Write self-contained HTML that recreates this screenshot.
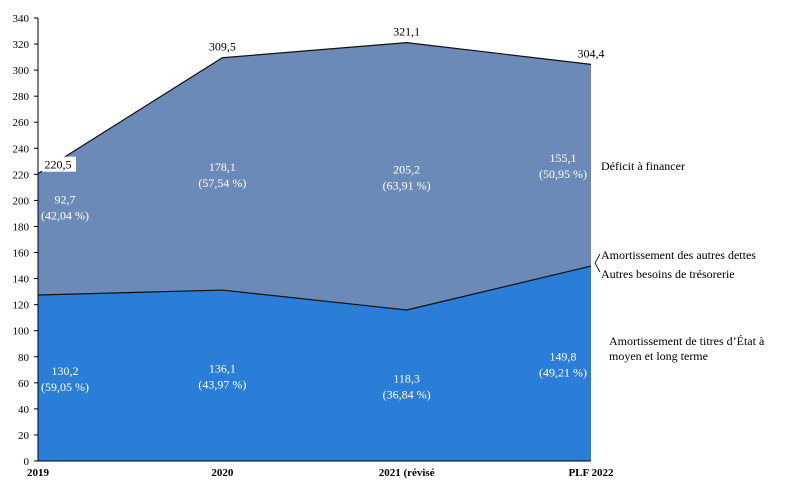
<!DOCTYPE html>
<html><head><meta charset="utf-8"><style>
body{margin:0;background:#fff}
svg{font-family:"Liberation Serif",serif;font-size:12px}
</style></head><body>
<svg width="809" height="495">
<g id="plot"></g>
</svg>
<script>
const categories=["2019","2020","2021 (révisé","PLF 2022"];
const lowerValues=[127.4,131.2,115.9,149.6];
const totalValues=[220.5,309.5,321.1,304.4];
const lowerLabels=["130,2","136,1","118,3","149,8"];
const lowerPct=["(59,05 %)","(43,97 %)","(36,84 %)","(49,21 %)"];
const upperLabels=["92,7","178,1","205,2","155,1"];
const upperPct=["(42,04 %)","(57,54 %)","(63,91 %)","(50,95 %)"];
const totalLabels=["220,5","309,5","321,1","304,4"];
const yTicks=[0,20,40,60,80,100,120,140,160,180,200,220,240,260,280,300,320,340];

const NS="http://www.w3.org/2000/svg";
const g=document.getElementById('plot');
const x0=38,x1=591,yb=461,yt=18;
const x=i=>x0+i*(x1-x0)/(categories.length-1);
const y=v=>yb-v*(yb-yt)/340;
function mk(t,a,txt){const e=document.createElementNS(NS,t);for(const k in a)e.setAttribute(k,a[k]);if(txt!==undefined)e.textContent=txt;g.appendChild(e);return e;}
const n=categories.length;
const lx=i=>x(i)+(i==0?27:(i==n-1?-28:0));

let up="",lo="";
categories.forEach((c,i)=>{up+=(i?"L":"M")+x(i)+","+y(totalValues[i]);});
for(let i=n-1;i>=0;i--)up+="L"+x(i)+","+y(lowerValues[i]);
let e=mk('path',{d:up+"Z",fill:"#6b8ab8"});


categories.forEach((c,i)=>{lo+=(i?"L":"M")+x(i)+","+y(lowerValues[i]);});
lo+="L"+x(n-1)+","+yb+"L"+x0+","+yb+"Z";
e=mk('path',{d:lo,fill:"#2a7ed7"});


let l1="",l2="";
categories.forEach((c,i)=>{l1+=(i?"L":"M")+x(i)+","+y(totalValues[i]);l2+=(i?"L":"M")+x(i)+","+y(lowerValues[i]);});
mk('path',{d:l1,fill:"none",stroke:"#111","stroke-width":1.2});
mk('path',{d:l2,fill:"none",stroke:"#111","stroke-width":1.2});

e=mk('line',{x1:x0,y1:yt,x2:x0,y2:yb,stroke:"#000"});


e=mk('line',{x1:x0,y1:yb,x2:x1,y2:yb,stroke:"#000"});


yTicks.forEach(v=>{
  mk('line',{x1:x0-4,y1:y(v),x2:x0,y2:y(v),stroke:"#000"});
  const t=mk('text',{x:x0-9,y:y(v)+4,"text-anchor":"end",fill:"#000","font-size":"11"},v);
  
  
});
categories.forEach((c,i)=>{
  const t=mk('text',{x:x(i),y:476,"text-anchor":"middle",fill:"#000","font-weight":"bold","font-size":"11"},c);
  
  
  const ym=y(lowerValues[i]/2);
  let a=mk('text',{x:lx(i),y:ym-3,"text-anchor":"middle",fill:"#fff"},lowerLabels[i]);
  
  
  a=mk('text',{x:lx(i),y:ym+13,"text-anchor":"middle",fill:"#fff"},lowerPct[i]);
  
  
  const yu=y((lowerValues[i]+totalValues[i])/2)+(i==0?-28:0);
  a=mk('text',{x:lx(i),y:yu-3,"text-anchor":"middle",fill:"#fff"},upperLabels[i]);
  
  
  a=mk('text',{x:lx(i),y:yu+13,"text-anchor":"middle",fill:"#fff"},upperPct[i]);
  
  
  if(i==0){mk('rect',{x:x(i)+4,y:y(totalValues[i])-17,width:34,height:15,fill:"#fff"});}
  a=mk('text',{x:x(i)+(i==0?20:0),y:y(totalValues[i])-(i==0?5:7),"text-anchor":"middle",fill:"#000"},totalLabels[i]);
  
  
});
const lab=[["Déficit à financer",601,170],["Amortissement des autres dettes",601,259],["Autres besoins de trésorerie",601,278],["Amortissement de titres d’État à",609,345],["moyen et long terme",609,360]];
lab.forEach(l=>{const t=mk('text',{x:l[1],y:l[2],fill:"#000"},l[0]);

});
mk('path',{d:"M600,254 L595,263 L600,272",fill:"none",stroke:"#000","stroke-width":0.8});
</script>
</body></html>
